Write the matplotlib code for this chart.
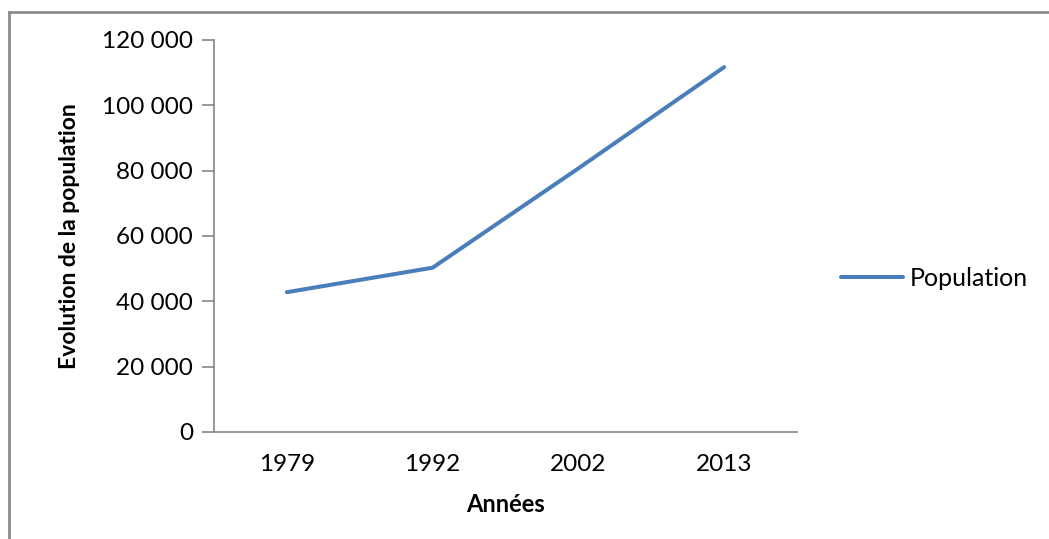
import matplotlib.pyplot as plt
from matplotlib.lines import Line2D
from matplotlib.ticker import FuncFormatter

# Données
annees = ['1979', '1992', '2002', '2013']
population = [42800, 50300, 80700, 111700]
yticks = [0, 20000, 40000, 60000, 80000, 100000, 120000]

plt.rcParams['font.family'] = ['Lato', 'DejaVu Sans']

fig = plt.figure(figsize=(10.49, 5.39), dpi=100)
ax = fig.add_axes([214/1049, 1 - 432/539, (797 - 214)/1049, (432 - 40)/539])

x = range(len(annees))
ax.plot(x, population, color='#4A7EBB', linewidth=2.9, label='Population',
        solid_capstyle='round')

ax.set_xlim(-0.5, len(annees) - 0.5)
ax.set_ylim(0, 120000)
ax.set_xticks(list(x))
ax.set_xticklabels(annees)
ax.set_yticks(yticks)
ax.yaxis.set_major_formatter(FuncFormatter(lambda v, p: f'{int(v):,}'.replace(',', ' ')))

for s in ['top', 'right']:
    ax.spines[s].set_visible(False)
for s in ['left', 'bottom']:
    ax.spines[s].set_color('#868686')
    ax.spines[s].set_linewidth(1.2)

ax.tick_params(axis='y', length=9, width=1.2, color='#868686', labelsize=17.5, pad=6)
ax.tick_params(axis='x', length=0, labelsize=17.5, pad=16)

ax.set_ylabel('Evolution de la population', fontsize=16.5, fontweight='bold', labelpad=16)
ax.set_xlabel('Années', fontsize=17, fontweight='bold', labelpad=13)

ax.legend(loc='center left', bbox_to_anchor=(818/1049, 1 - 278/539),
          bbox_transform=fig.transFigure, frameon=False, fontsize=18,
          handlelength=2.5, handletextpad=0.25)

# cadre gris du graphique (haut et gauche)
fig.add_artist(Line2D([9/1049, 1.0], [1 - 12/539, 1 - 12/539], color='#8C8C8C', linewidth=2))
fig.add_artist(Line2D([9/1049, 9/1049], [1 - 12/539, 0.0], color='#8C8C8C', linewidth=2))

plt.savefig('out.png', dpi=100)
